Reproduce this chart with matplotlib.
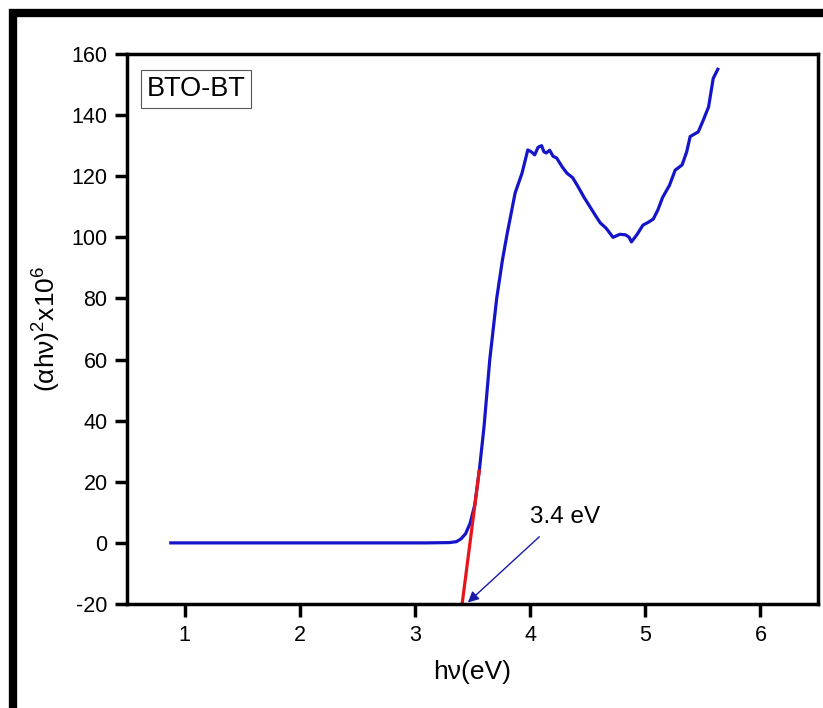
import numpy as np
import matplotlib.pyplot as plt
from matplotlib.patches import Rectangle

plt.rcParams['font.family'] = ['Liberation Sans', 'DejaVu Sans']
plt.rcParams['axes.unicode_minus'] = False
plt.rcParams['mathtext.fontset'] = 'custom'
plt.rcParams['mathtext.rm'] = 'Liberation Sans'
plt.rcParams['mathtext.default'] = 'regular'

# spektar (alpha h nu)^2 x 1e6 ocitan sa slike
hv = [0.88, 1.2, 1.6, 2.0, 2.4, 2.8, 3.1, 3.3, 3.36, 3.40, 3.44, 3.48, 3.52,
      3.56, 3.60, 3.65, 3.71, 3.76, 3.80, 3.87, 3.93, 3.98, 4.01, 4.04, 4.07,
      4.10, 4.12, 4.14, 4.17, 4.20, 4.23, 4.28, 4.32, 4.37, 4.41, 4.47, 4.52,
      4.57, 4.61, 4.66, 4.72, 4.78, 4.83, 4.86, 4.88, 4.93, 4.98, 5.03, 5.07,
      5.11, 5.15, 5.21, 5.26, 5.32, 5.36, 5.39, 5.46, 5.50, 5.55, 5.59, 5.63]
ahv2 = [0, 0, 0, 0, 0, 0, 0, 0.1, 0.4, 1.3, 3.0, 6.5, 12.5,
        24, 38, 60, 80, 92.6, 101, 114.5, 121, 128.6, 128, 127, 129.5,
        130, 128, 127.6, 128.5, 126.5, 126, 123, 121, 119.5, 117, 113, 110,
        107, 104.7, 103, 100, 101, 100.8, 100, 98.5, 101, 104, 105, 106,
        109, 113, 117, 122, 123.7, 128, 133, 134.5, 138, 142.7, 152, 155]

# linearni fit za procjenu energijskog procjepa
fit_x = [3.41, 3.56]
fit_y = [-20, 24]

fig = plt.figure(figsize=(8.23, 7.08), dpi=100)
ax = fig.add_axes([127 / 823, 1 - 604 / 708, (818 - 127) / 823, (604 - 54) / 708])

ax.plot(hv, ahv2, color='#1414c8', lw=2.3, solid_joinstyle='round')
ax.plot(fit_x, fit_y, color='#e8141c', lw=2.3, solid_capstyle='butt')

ax.set_xlim(0.5, 6.5)
ax.set_ylim(-20, 160)
ax.set_xticks([1, 2, 3, 4, 5, 6])
ax.set_yticks(np.arange(-20, 161, 20))
ax.tick_params(direction='out', length=9, width=2.5, labelsize=15.5, pad=5)
ax.tick_params(axis='x', pad=6)
for s in ax.spines.values():
    s.set_linewidth(2.5)

ax.set_xlabel('hν(eV)', fontsize=19, labelpad=10)
ax.set_ylabel(r'(αhν)$^2$x10$^6$', fontsize=19, labelpad=6)

ax.text(0.67, 148.5, 'BTO-BT', fontsize=19.5, va='center', ha='left',
        bbox=dict(boxstyle='square,pad=0.22', fc='white', ec='#555555', lw=0.8))

ax.text(4.0, 8.5, '3.4 eV', fontsize=17.5, ha='left', va='center')
ax.annotate('', xy=(3.46, -19.5), xytext=(4.08, 2),
            arrowprops=dict(arrowstyle='-|>', color='#1a1aa8', lw=1.0,
                            mutation_scale=16, shrinkA=0, shrinkB=0))

# debeli crni okvir oko cijele slike
fig.patches.append(Rectangle((13 / 823, -2 / 708), 1.0, 1 - 11 / 708,
                             transform=fig.transFigure, fill=False,
                             ec='black', lw=6, clip_on=False))

fig.savefig('out.png', dpi=100)
